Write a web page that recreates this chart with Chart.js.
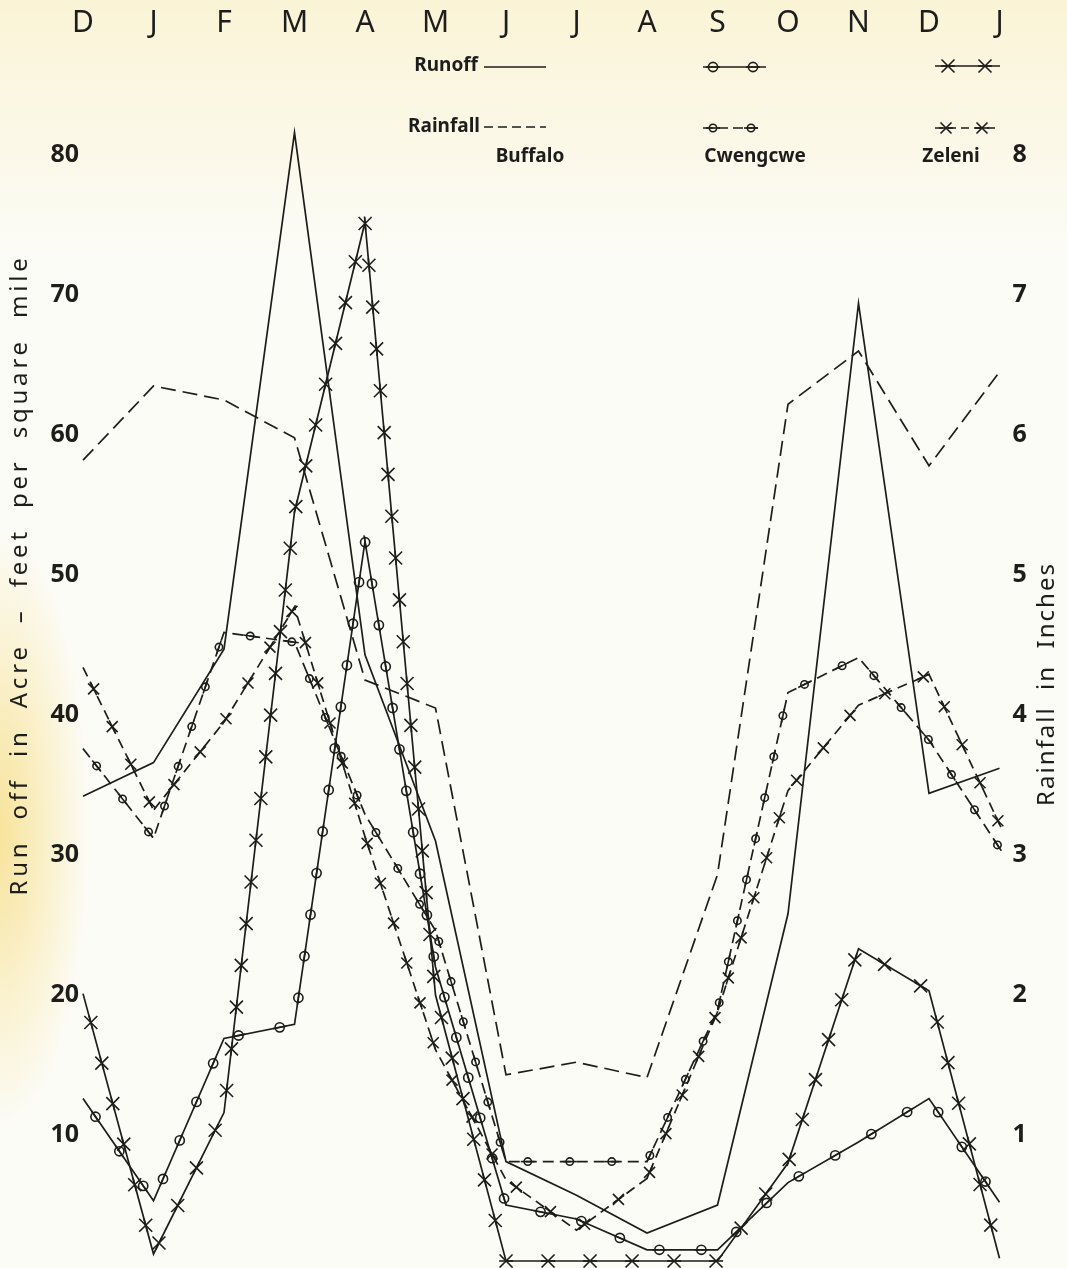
<!DOCTYPE html>
<html>
<head>
<meta charset="utf-8">
<title>Runoff and rainfall - Buffalo, Cwengcwe, Zeleni</title>
<script src="https://cdn.jsdelivr.net/npm/chart.js@4.4.1/dist/chart.umd.min.js"></script>
<style>
  html, body { margin: 0; padding: 0; background: #fcfcf7; }
  canvas { display: block; }
</style>
</head>
<body>
<canvas id="runoff-chart" width="1067" height="1268" style="width:1067px;height:1268px"></canvas>
<script>
/* Months across the top, December to January */
let months = ['D', 'J', 'F', 'M', 'A', 'M', 'J', 'J', 'A', 'S', 'O', 'N', 'D', 'J']

/* Runoff in acre-feet per square mile (left axis) */
let buffaloRunoff  = [34.2, 36.6, 44.7, 81.6, 44.3, 31.0, 8.1, 5.7, 3.0, 5.0, 25.8, 69.4, 34.4, 36.2]
let cwengcweRunoff = [12.6, 5.3, 16.9, 17.9, 52.4, 22.0, 5.0, 4.0, 1.8, 1.8, 6.6, 9.5, 12.6, 5.2]
let zeleniRunoff   = [20.1, 1.5, 11.6, 54.5, 75.2, 20.0, 1.0, 1.0, 1.0, 1.0, 8.0, 23.3, 20.3, 1.2]

/* Rainfall in inches (right axis) */
let buffaloRain  = [5.82, 6.35, 6.25, 5.98, 4.25, 4.05, 1.43, 1.52, 1.41, 2.86, 6.22, 6.6, 5.78, 6.45]
let cwengcweRain = [3.76, 3.12, 4.59, 4.52, 3.29, 2.46, 0.81, 0.81, 0.81, 1.89, 4.16, 4.41, 3.82, 3.05]
let zeleniRain   = [4.34, 3.32, 3.95, 4.77, 3.13, 1.61, 0.68, 0.32, 0.69, 1.88, 3.46, 4.07, 4.29, 3.22]

/* Tick labels */
let runoffTicks = [10, 20, 30, 40, 50, 60, 70, 80]
let rainTicks = [1, 2, 3, 4, 5, 6, 7, 8]

let ink = '#1d1d1b'
let fontFamily = '"Noto Sans", "DejaVu Sans", sans-serif'

// markers are spaced evenly along the drawn line, like the hand-drafted original
let markerGap = 42

function drawMarker(c, kind, x, y, angle) {
    c.save()
    c.setLineDash([])
    c.strokeStyle = ink
    c.lineWidth = 1.6
    // short piece of line through the marker so dashes never leave it floating
    c.beginPath()
    c.moveTo(x - Math.cos(angle) * 7, y - Math.sin(angle) * 7)
    c.lineTo(x + Math.cos(angle) * 7, y + Math.sin(angle) * 7)
    c.stroke()
    if (kind === 'circle' || kind === 'smallCircle') {
        let r = kind === 'circle' ? 4.6 : 3.7
        c.beginPath()
        c.arc(x, y, r, 0, Math.PI * 2)
        c.stroke()
    } else {
        let s = kind === 'cross' ? 6.5 : 5.5
        c.beginPath()
        c.moveTo(x - s, y - s); c.lineTo(x + s, y + s)
        c.moveTo(x + s, y - s); c.lineTo(x - s, y + s)
        c.stroke()
    }
    c.restore()
}

function markersAlong(pts, gap, start) {
    let out = []
    let next = start
    let run = 0
    for (let i = 1; i < pts.length; i++) {
        let a = pts[i - 1], b = pts[i]
        let len = Math.hypot(b.x - a.x, b.y - a.y)
        while (len > 0 && next <= run + len) {
            let t = (next - run) / len
            out.push({ x: a.x + (b.x - a.x) * t, y: a.y + (b.y - a.y) * t, angle: Math.atan2(b.y - a.y, b.x - a.x) })
            next += gap
        }
        run += len
    }
    return out
}

let paperPlugin = {
    id: 'paper',
    beforeDraw(chart) {
        let c = chart.ctx
        let w = chart.width, h = chart.height
        c.save()
        c.fillStyle = '#fcfcf7'
        c.fillRect(0, 0, w, h)
        let top = c.createLinearGradient(0, 0, 0, 260)
        top.addColorStop(0, 'rgba(249, 240, 200, 0.7)')
        top.addColorStop(1, 'rgba(249, 240, 200, 0)')
        c.fillStyle = top
        c.fillRect(0, 0, w, 260)
        // yellowed paper edge on the left
        c.save()
        c.scale(0.3, 1)
        let side = c.createRadialGradient(0, 830, 10, 0, 830, 300)
        side.addColorStop(0, 'rgba(246, 218, 120, 0.7)')
        side.addColorStop(1, 'rgba(246, 218, 120, 0)')
        c.fillStyle = side
        c.fillRect(0, 500, 400, 700)
        c.restore()
        c.restore()
    }
}

let markerPlugin = {
    id: 'lineMarkers',
    afterDatasetsDraw(chart) {
        let c = chart.ctx
        chart.data.datasets.forEach(function (ds, i) {
            if (!ds.marker) return
            let pts = chart.getDatasetMeta(i).data.map(p => ({ x: p.x, y: p.y }))
            markersAlong(pts, markerGap, ds.markerStart).forEach(function (m) {
                drawMarker(c, ds.marker, m.x, m.y, m.angle)
            })
        })
    }
}

function sampleLine(c, x0, x1, y, dash, marker, marks) {
    c.save()
    c.strokeStyle = ink
    c.lineWidth = 1.7
    c.setLineDash(dash)
    c.beginPath()
    c.moveTo(x0, y)
    c.lineTo(x1, y)
    c.stroke()
    c.restore()
    if (marker) {
        marks.forEach(mx => drawMarker(c, marker, mx, y, 0))
    }
}

let keyPlugin = {
    id: 'stationKey',
    afterDraw(chart) {
        let c = chart.ctx
        c.save()
        c.fillStyle = ink
        c.font = 'bold 19px ' + fontFamily
        c.textBaseline = 'middle'
        c.textAlign = 'right'
        c.fillText('Runoff', 478, 66)
        c.fillText('Rainfall', 480, 127)
        c.textAlign = 'center'
        c.fillText('Buffalo', 530, 157)
        c.fillText('Cwengcwe', 755, 157)
        c.fillText('Zeleni', 951, 157)

        sampleLine(c, 484, 546, 67, [], null, [])
        sampleLine(c, 484, 546, 127, [9, 5], null, [])
        sampleLine(c, 703, 766, 67, [], 'circle', [713, 753])
        sampleLine(c, 703, 762, 128, [10, 5], 'smallCircle', [713, 751])
        sampleLine(c, 935, 1000, 66, [], 'cross', [948, 985])
        sampleLine(c, 935, 1000, 128, [8, 5], 'star', [946, 982])

        // axis titles, both reading bottom to top
        c.font = '24px ' + fontFamily
        c.letterSpacing = '3.8px'
        c.save()
        c.translate(20, 575)
        c.rotate(-Math.PI / 2)
        c.fillText('Run  off  in  Acre  \u2013  feet  per  square  mile', 0, 0)
        c.restore()
        c.letterSpacing = '2px'
        c.save()
        c.translate(1047, 684)
        c.rotate(-Math.PI / 2)
        c.fillText('Rainfall  in  Inches', 0, 0)
        c.restore()
        c.restore()
    }
}

function lineSet(label, values, axis, dash, marker, markerStart) {
    return {
        label: label,
        data: values,
        yAxisID: axis,
        borderColor: ink,
        borderWidth: 1.7,
        borderDash: dash,
        pointRadius: 0,
        tension: 0,
        fill: false,
        clip: false,
        marker: marker,
        markerStart: markerStart
    }
}

// the y axes should not reserve room for half a tick label above and below
function noVerticalPadding(scale) {
    scale.paddingTop = 0
    scale.paddingBottom = 0
}

let chartCanvas = document.querySelector('#runoff-chart')
let ctx = chartCanvas.getContext('2d')

let runoffChart = new Chart(ctx, {
    type: 'line',
    data: {
        labels: months,
        datasets: [
            lineSet('Buffalo runoff', buffaloRunoff, 'runoff', [], null, 0),
            lineSet('Buffalo rainfall', buffaloRain, 'rain', [15, 7], null, 0),
            lineSet('Cwengcwe runoff', cwengcweRunoff, 'runoff', [], 'circle', 22),
            lineSet('Cwengcwe rainfall', cwengcweRain, 'rain', [11, 6], 'smallCircle', 22),
            lineSet('Zeleni runoff', zeleniRunoff, 'runoff', [], 'cross', 30),
            lineSet('Zeleni rainfall', zeleniRain, 'rain', [10, 6], 'star', 24)
        ]
    },
    options: {
        responsive: false,
        animation: false,
        layout: { padding: 0 },
        plugins: {
            legend: { display: false },
            tooltip: { enabled: false }
        },
        scales: {
            x: {
                type: 'category',
                position: 'top',
                grid: { display: false, drawTicks: false },
                border: { display: false },
                ticks: {
                    autoSkip: false,
                    maxRotation: 0,
                    padding: 58,
                    color: ink,
                    font: { family: fontFamily, size: 30 }
                },
                afterFit: function (scale) {
                    scale.height = 99
                    scale.paddingLeft = 0
                    scale.paddingRight = 0
                }
            },
            runoff: {
                type: 'linear',
                position: 'left',
                min: 0.5,
                max: 84,
                grid: { display: false, drawTicks: false },
                border: { display: false },
                afterBuildTicks: function (scale) { scale.ticks = runoffTicks.map(v => ({ value: v })) },
                ticks: {
                    padding: 4,
                    color: ink,
                    font: { family: fontFamily, size: 25, weight: 'bold' }
                },
                afterFit: function (scale) {
                    scale.width = 83
                    noVerticalPadding(scale)
                }
            },
            rain: {
                type: 'linear',
                position: 'right',
                min: 0.05,
                max: 8.4,
                grid: { display: false, drawTicks: false },
                border: { display: false },
                afterBuildTicks: function (scale) { scale.ticks = rainTicks.map(v => ({ value: v })) },
                ticks: {
                    padding: 13,
                    color: ink,
                    font: { family: fontFamily, size: 25, weight: 'bold' }
                },
                afterFit: function (scale) {
                    scale.width = 67.5
                    noVerticalPadding(scale)
                }
            }
        }
    },
    plugins: [paperPlugin, markerPlugin, keyPlugin]
})
</script>
</body>
</html>
